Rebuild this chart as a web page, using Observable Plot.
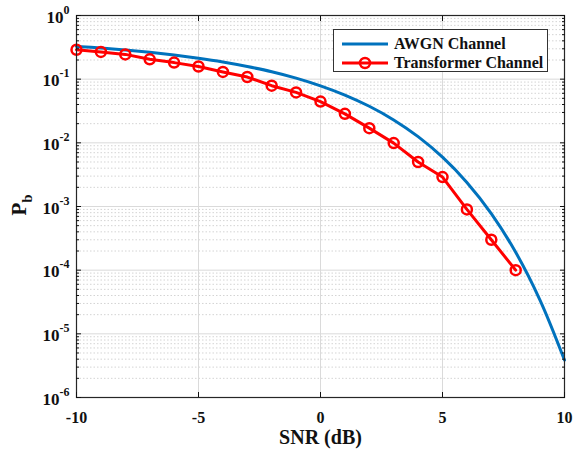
<!DOCTYPE html>
<html><head><meta charset="utf-8">
<script src="https://cdn.jsdelivr.net/npm/d3@7"></script>
<script src="https://cdn.jsdelivr.net/npm/@observablehq/plot@0.6"></script>
<style>
body{margin:0;background:#fff;}
#wrap{position:relative;width:574px;height:450px;font-family:"Liberation Serif","Times New Roman",serif;font-weight:bold;color:#111;}
#legend{position:absolute;left:333px;top:29px;width:215px;height:43px;border:1px solid #333;background:#fff;font-size:16px;box-sizing:border-box;}
#legend .row{position:absolute;left:0;height:18px;display:flex;align-items:center;white-space:nowrap;}
#legend svg{display:block;margin-left:8px;margin-right:6px;}
</style></head>
<body>
<div id="wrap"><div id="chart"></div>
<div id="legend">
  <div class="row" style="top:5px"><svg width="46" height="14"><line x1="0" x2="46" y1="7" y2="7" stroke="#0072BD" stroke-width="3"/></svg><span>AWGN Channel</span></div>
  <div class="row" style="top:24px"><svg width="46" height="14"><line x1="0" x2="46" y1="7" y2="7" stroke="#FF0000" stroke-width="3"/><circle cx="23" cy="7" r="5" fill="none" stroke="#FF0000" stroke-width="2.5"/></svg><span>Transformer Channel</span></div>
</div>
</div>
<script>
const snr = [-10,-9,-8,-7,-6,-5,-4,-3,-2,-1,0,1,2,3,4,5,6,7,8,9,10];
const awgnPb = [0.327,0.308,0.287,0.264,0.239,0.213,0.186,0.158,0.131,0.104,0.0786,0.0563,0.0375,0.0229,0.0125,0.00595,0.00239,0.000773,0.000191,3.36e-5,3.87e-6];
const transSnr = [-10,-9,-8,-7,-6,-5,-4,-3,-2,-1,0,1,2,3,4,5,6,7,8];
const transPb = [0.29,0.268,0.245,0.205,0.182,0.158,0.13,0.108,0.079,0.062,0.0445,0.0285,0.017,0.0099,0.005,0.0029,0.0009,0.0003,0.0001];
const xTicks = [-10,-5,0,5,10];
const yTicks = [1e-6,1e-5,1e-4,1e-3,1e-2,1e-1,1];
const minorMult = [2,3,4,5,6,7,8,9];

const awgn = snr.map((s,i)=>({snr:s, pb:awgnPb[i]}));
const trans = transSnr.map((s,i)=>({snr:s, pb:transPb[i]}));
const minor = yTicks.slice(0,-1).flatMap(d=>minorMult.map(m=>m*d));

const plot = Plot.plot({
  width:574, height:450,
  marginLeft:76, marginRight:10, marginTop:15, marginBottom:53,
  style:{fontFamily:"'Liberation Serif','Times New Roman',serif", fontWeight:"bold", fontSize:"16px", color:"#111", background:"#fff"},
  x:{domain:[-10,10]},
  y:{type:"log", domain:[1e-6,1]},
  marks:[
    Plot.ruleY(minor, {stroke:"#d4d4d4", strokeDasharray:"1.5,2"}),
    Plot.ruleY(yTicks, {stroke:"#dadada"}),
    Plot.ruleX(xTicks, {stroke:"#dadada"}),
    Plot.line(awgn, {x:"snr", y:"pb", stroke:"#0072BD", strokeWidth:3, curve:"catmull-rom"}),
    Plot.line(trans, {x:"snr", y:"pb", stroke:"#FF0000", strokeWidth:3}),
    Plot.dot(trans, {x:"snr", y:"pb", r:5, stroke:"#FF0000", strokeWidth:2.5, fill:"none"}),
    Plot.frame({stroke:"#262626", strokeWidth:1.2}),
    Plot.axisX({ticks:xTicks, tickSize:0, tickPadding:14, tickFormat:d=>String(d), label:"SNR (dB)", labelAnchor:"center", labelArrow:"none", labelOffset:46}),
    Plot.axisX({ticks:xTicks, tickSize:-5, text:null, label:null}),
    Plot.axisX({anchor:"top", ticks:xTicks, tickSize:-5, text:null, label:null}),
    Plot.axisY({ticks:yTicks, tickSize:0, tickPadding:7, tickFormat:d=>"10^"+Math.round(Math.log10(d)), label:null}),
    Plot.axisY({ticks:yTicks, tickSize:-5, text:null, label:null}),
    Plot.axisY({ticks:minor, tickSize:-3, text:null, label:null}),
    Plot.axisY({anchor:"right", ticks:yTicks, tickSize:-5, text:null, label:null}),
    Plot.axisY({anchor:"right", ticks:minor, tickSize:-3, text:null, label:null}),
    Plot.text(["P|b"], {frameAnchor:"left", dx:-57, dy:9, rotate:-90, text:d=>d})
  ]
});
document.getElementById("chart").appendChild(plot);
const NS = "http://www.w3.org/2000/svg";

// x tick labels
plot.querySelectorAll('g[aria-label="x-axis tick label"] text').forEach(t=>{ t.setAttribute("font-size","16px"); });
// superscripts on y tick labels
plot.querySelectorAll('g[aria-label="y-axis tick label"] text').forEach(t=>{
  const s = t.textContent; if(!s.includes("^")) return;
  const [base, exp] = s.split("^");
  t.textContent = "";
  t.setAttribute("font-size","17px");
  t.setAttribute("dy","0.1em");
  const a = document.createElementNS(NS,"tspan"); a.textContent = base;
  const b = document.createElementNS(NS,"tspan"); b.textContent = exp;
  b.setAttribute("dy","-9"); b.setAttribute("font-size","12px");
  t.appendChild(a); t.appendChild(b);
});
// subscript on y label
plot.querySelectorAll('g[aria-label="text"] text').forEach(t=>{
  const s = t.textContent; if(!s.includes("|")) return;
  const [base, sub] = s.split("|");
  t.textContent = "";
  t.setAttribute("font-size","21px");
  const a = document.createElementNS(NS,"tspan"); a.textContent = base;
  const b = document.createElementNS(NS,"tspan"); b.textContent = sub;
  b.setAttribute("dy","6"); b.setAttribute("font-size","15px");
  t.appendChild(a); t.appendChild(b);
});
plot.querySelectorAll('g[aria-label="x-axis label"] text').forEach(t=>{ t.setAttribute("font-size","20px"); });
</script>
</body></html>
